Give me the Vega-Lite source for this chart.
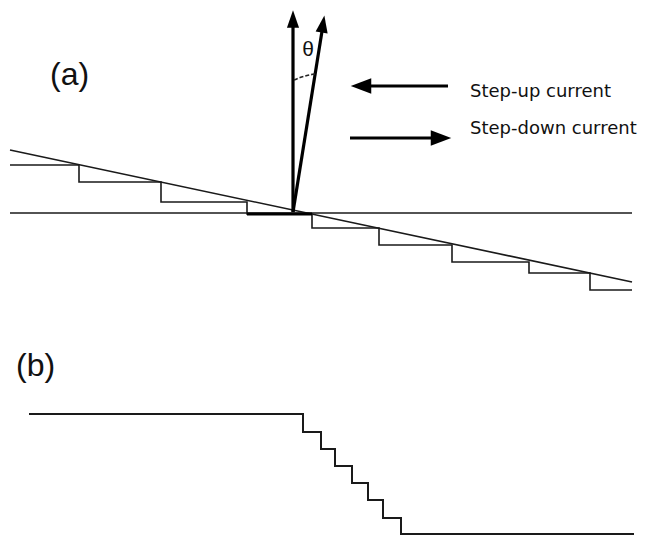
{
  "$schema": "https://vega.github.io/schema/vega-lite/v6.json",
  "width": 649,
  "height": 539,
  "autosize": {"type": "fit", "contains": "padding"},
  "padding": 0,
  "background": "white",
  "config": {"view": {"stroke": null}},
  "datasets": {
    "thin": [
      {"s": "slope", "i": 0, "x": 10, "y": 150},
      {"s": "slope", "i": 1, "x": 632, "y": 282},
      {"s": "level", "i": 0, "x": 10, "y": 213},
      {"s": "level", "i": 1, "x": 632, "y": 213},
      {"s": "stairA", "i": 0, "x": 10, "y": 165},
      {"s": "stairA", "i": 1, "x": 79, "y": 165},
      {"s": "stairA", "i": 2, "x": 79, "y": 182},
      {"s": "stairA", "i": 3, "x": 161, "y": 182},
      {"s": "stairA", "i": 4, "x": 161, "y": 202},
      {"s": "stairA", "i": 5, "x": 247, "y": 202},
      {"s": "stairA", "i": 6, "x": 247, "y": 214},
      {"s": "stairA", "i": 7, "x": 312, "y": 214},
      {"s": "stairA", "i": 8, "x": 312, "y": 228},
      {"s": "stairA", "i": 9, "x": 379, "y": 228},
      {"s": "stairA", "i": 10, "x": 379, "y": 245},
      {"s": "stairA", "i": 11, "x": 452, "y": 245},
      {"s": "stairA", "i": 12, "x": 452, "y": 262},
      {"s": "stairA", "i": 13, "x": 529, "y": 262},
      {"s": "stairA", "i": 14, "x": 529, "y": 273},
      {"s": "stairA", "i": 15, "x": 590, "y": 273},
      {"s": "stairA", "i": 16, "x": 590, "y": 290},
      {"s": "stairA", "i": 17, "x": 632, "y": 290}
    ],
    "profile": [
      {"i": 0, "x": 29, "y": 414},
      {"i": 1, "x": 303, "y": 414},
      {"i": 2, "x": 303, "y": 432},
      {"i": 3, "x": 321, "y": 432},
      {"i": 4, "x": 321, "y": 449},
      {"i": 5, "x": 335, "y": 449},
      {"i": 6, "x": 335, "y": 466},
      {"i": 7, "x": 352, "y": 466},
      {"i": 8, "x": 352, "y": 483},
      {"i": 9, "x": 368, "y": 483},
      {"i": 10, "x": 368, "y": 500},
      {"i": 11, "x": 383, "y": 500},
      {"i": 12, "x": 383, "y": 518},
      {"i": 13, "x": 401, "y": 518},
      {"i": 14, "x": 401, "y": 534},
      {"i": 15, "x": 634, "y": 534}
    ],
    "thick": [
      {"s": "normal", "i": 0, "x": 293, "y": 212},
      {"s": "normal", "i": 1, "x": 293, "y": 20},
      {"s": "tilted", "i": 0, "x": 293, "y": 212},
      {"s": "tilted", "i": 1, "x": 323, "y": 25},
      {"s": "up", "i": 0, "x": 448, "y": 86},
      {"s": "up", "i": 1, "x": 362, "y": 86},
      {"s": "down", "i": 0, "x": 350, "y": 138},
      {"s": "down", "i": 1, "x": 440, "y": 138},
      {"s": "terrace", "i": 0, "x": 247, "y": 214},
      {"s": "terrace", "i": 1, "x": 312, "y": 214}
    ],
    "arc": [
      {"i": 0, "x": 294, "y": 80},
      {"i": 1, "x": 300, "y": 77.5},
      {"i": 2, "x": 307, "y": 75.5},
      {"i": 3, "x": 315, "y": 74}
    ],
    "heads": [
      {"x": 293, "y": 19, "dir": 0},
      {"x": 323, "y": 24, "dir": 9}
    ],
    "legendHeads": [
      {"x": 361, "y": 86, "dir": 270},
      {"x": 441, "y": 138, "dir": 90}
    ],
    "panel": [
      {"x": 50, "y": 85, "label": "(a)"},
      {"x": 16, "y": 376, "label": "(b)"}
    ],
    "legend": [
      {"x": 470, "y": 97, "label": "Step-up current"},
      {"x": 470, "y": 134, "label": "Step-down current"}
    ],
    "theta": [
      {"x": 308, "y": 50, "label": "θ"}
    ]
  },
  "encoding": {
    "x": {"field": "x", "type": "quantitative", "scale": {"domain": [0, 649], "nice": false, "zero": false}, "axis": null},
    "y": {"field": "y", "type": "quantitative", "scale": {"domain": [0, 539], "reverse": true, "nice": false, "zero": false}, "axis": null}
  },
  "layer": [
    {
      "data": {"name": "thin"},
      "mark": {"type": "line", "stroke": "#1a1a1a", "strokeWidth": 1.6},
      "encoding": {"detail": {"field": "s"}, "order": {"field": "i", "type": "quantitative"}}
    },
    {
      "data": {"name": "profile"},
      "mark": {"type": "line", "stroke": "#1a1a1a", "strokeWidth": 2},
      "encoding": {"order": {"field": "i", "type": "quantitative"}}
    },
    {
      "data": {"name": "thick"},
      "mark": {"type": "line", "stroke": "#000000", "strokeWidth": 3.2},
      "encoding": {"detail": {"field": "s"}, "order": {"field": "i", "type": "quantitative"}}
    },
    {
      "data": {"name": "arc"},
      "mark": {"type": "line", "stroke": "#222222", "strokeWidth": 1.6, "strokeDash": [4, 2], "interpolate": "monotone"},
      "encoding": {"order": {"field": "i", "type": "quantitative"}}
    },
    {
      "data": {"name": "heads"},
      "mark": {"type": "point", "filled": true, "opacity": 1, "color": "#000000", "shape": "M0,-1L0.7,1L-0.7,1Z", "size": 300},
      "encoding": {"angle": {"field": "dir", "type": "quantitative", "scale": null}}
    },
    {
      "data": {"name": "legendHeads"},
      "mark": {"type": "point", "filled": true, "opacity": 1, "color": "#000000", "shape": "M0,-1L0.75,1L-0.75,1Z", "size": 420},
      "encoding": {"angle": {"field": "dir", "type": "quantitative", "scale": null}}
    },
    {
      "data": {"name": "panel"},
      "mark": {"type": "text", "font": "Liberation Sans", "fontSize": 32, "align": "left", "baseline": "alphabetic", "color": "#111111"},
      "encoding": {"text": {"field": "label"}}
    },
    {
      "data": {"name": "legend"},
      "mark": {"type": "text", "font": "DejaVu Sans", "fontSize": 18, "align": "left", "baseline": "alphabetic", "color": "#111111"},
      "encoding": {"text": {"field": "label"}}
    },
    {
      "data": {"name": "theta"},
      "mark": {"type": "text", "font": "Liberation Sans", "fontSize": 21, "align": "center", "baseline": "middle", "color": "#111111"},
      "encoding": {"text": {"field": "label"}}
    }
  ]
}
